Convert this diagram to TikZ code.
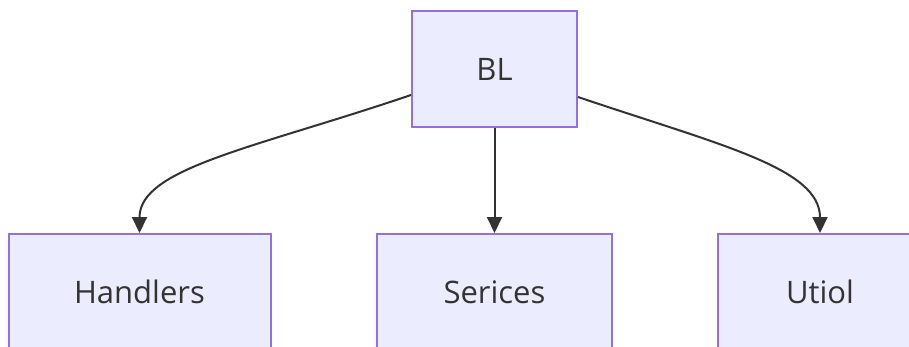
\documentclass[tikz,border=0pt]{standalone}
\usepackage{fontspec}
\setmainfont{Open Sans}
\usetikzlibrary{arrows.meta}
\definecolor{boxfill}{HTML}{ECECFF}
\definecolor{boxline}{HTML}{9370DB}
\definecolor{ink}{HTML}{333333}
\tikzset{
  module/.style={draw=boxline, fill=boxfill, line width=2pt, text=ink,
    inner sep=0pt, font=\fontsize{31}{36}\selectfont},
  link/.style={draw=ink, line width=2pt,
    -{Triangle[length=16pt, width=15pt]}}
}
\begin{document}
\begin{tikzpicture}[x=1pt, y=-1pt]
  \useasboundingbox[fill=white] (0,0) rectangle (909,346);
  % top-level layer
  \node[module, minimum width=165pt, minimum height=116pt] (BL) at (494.5,69) {BL};
  % sub-modules (bottom edges run past the page)
  \node[module, minimum width=262pt, minimum height=116pt] (H) at (139.5,292) {Handlers};
  \node[module, minimum width=235pt, minimum height=116pt] (S) at (494.5,292) {Serices};
  \node[module, minimum width=204pt, minimum height=116pt] (U) at (820,292) {Utiol};
  % connectors
  \draw[link] ([yshift=-26pt]BL.west) .. controls (255,148) and (139.5,168) .. (H.north);
  \draw[link] (BL.south) -- (S.north);
  \draw[link] ([yshift=-28pt]BL.east) .. controls (720,145) and (820,168) .. (U.north);
\end{tikzpicture}
\end{document}
